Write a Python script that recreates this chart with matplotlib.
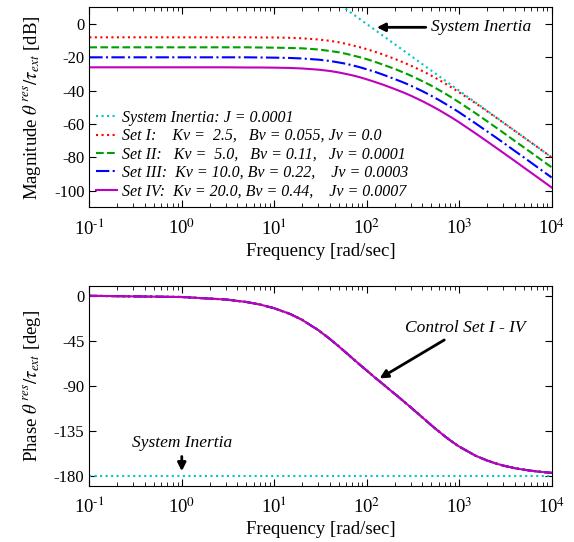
import matplotlib
matplotlib.use("Agg")
import matplotlib.pyplot as plt
from matplotlib.ticker import LogLocator, NullFormatter, FuncFormatter
import numpy as np

plt.rcParams['font.family'] = ['Liberation Serif', 'DejaVu Serif']
plt.rcParams['mathtext.fontset'] = 'stix'
plt.rcParams['axes.unicode_minus'] = False

freq = [0.1, 1, 3, 5, 7, 10, 15, 20, 30, 40, 50, 60, 70, 85, 100, 120, 150, 200,
        250, 300, 400, 500, 600, 700, 850, 1000, 1500, 2000, 2500, 3000, 4000,
        5000, 7000, 10000]

# Magnitude [dB]
mag_set1 = [-8.0, -8.0, -8.0, -8.0, -8.1, -8.1, -8.3, -8.6, -9.3, -10.1, -11.0,
            -11.9, -12.8, -14.0, -15.1, -16.5, -18.3, -20.9, -23.1, -25.0, -28.2,
            -31.0, -33.4, -35.6, -38.5, -41.0, -47.5, -52.3, -56.1, -59.2, -64.2,
            -68.0, -73.8, -80.0]
mag_set2 = [-14.0, -14.0, -14.0, -14.0, -14.1, -14.2, -14.4, -14.6, -15.3, -16.2,
            -17.0, -17.9, -18.8, -20.0, -21.1, -22.5, -24.4, -26.9, -29.1, -31.0,
            -34.3, -37.0, -39.5, -41.6, -44.5, -47.0, -53.5, -58.3, -62.1, -65.2,
            -70.2, -74.0, -79.8, -86.0]
mag_set3 = [-20.0, -20.0, -20.0, -20.0, -20.1, -20.2, -20.4, -20.7, -21.4, -22.2,
            -23.1, -23.9, -24.8, -26.0, -27.2, -28.5, -30.4, -33.0, -35.1, -37.0,
            -40.3, -43.1, -45.5, -47.7, -50.5, -53.0, -59.6, -64.4, -68.1, -71.2,
            -76.2, -80.0, -85.9, -92.1]
mag_set4 = [-26.0, -26.0, -26.0, -26.1, -26.1, -26.2, -26.4, -26.7, -27.4, -28.2,
            -29.1, -30.0, -30.8, -32.0, -33.2, -34.6, -36.4, -39.0, -41.1, -43.0,
            -46.3, -49.1, -51.5, -53.7, -56.5, -59.0, -65.6, -70.4, -74.2, -77.3,
            -82.2, -86.1, -91.9, -98.1]
freq_inertia = [10, 100, 1000, 10000]
mag_inertia = [40, 0, -40, -80]

# Phase [deg] (all four control sets lie on the same curve)
phase_sets = [-0.1, -1.3, -3.8, -6.3, -8.8, -12.5, -18.4, -24.1, -34.4, -43.2,
              -50.7, -57.0, -62.4, -69.2, -74.7, -80.9, -88.3, -97.8, -105.3,
              -111.5, -121.5, -129.3, -135.4, -140.4, -146.2, -150.6, -159.7,
              -164.5, -167.5, -169.6, -172.2, -173.7, -175.5, -176.9]
freq_inertia_ph = [0.1, 10000]
phase_inertia = [-180, -180]

labels = [
    'System Inertia: J = 0.0001',
    'Set I:    Kv =  2.5,   Bv = 0.055, Jv = 0.0',
    'Set II:   Kv =  5.0,   Bv = 0.11,   Jv = 0.0001',
    'Set III:  Kv = 10.0, Bv = 0.22,    Jv = 0.0003',
    'Set IV:  Kv = 20.0, Bv = 0.44,    Jv = 0.0007',
]
colors = ['#00c8c8', '#ff0000', '#00a000', '#0000ff', '#c000c0']
styles = [':', ':', '--', '-.', '-']
mags = [mag_set1, mag_set2, mag_set3, mag_set4]

fig = plt.figure(figsize=(5.74, 5.42), dpi=100)
ax1 = fig.add_axes([0.1556, 0.6175, 0.8054, 0.369])
ax2 = fig.add_axes([0.1556, 0.1033, 0.8054, 0.3696])

# magnitude
ax1.plot(freq_inertia, mag_inertia, color=colors[0], ls=styles[0], lw=1.5, label=labels[0])
for i in range(4):
    ax1.plot(freq, mags[i], color=colors[i + 1], ls=styles[i + 1], lw=1.5, label=labels[i + 1])

# phase
ax2.plot(freq_inertia_ph, phase_inertia, color=colors[0], ls=styles[0], lw=1.5)
for i in range(4):
    ax2.plot(freq, phase_sets, color=colors[i + 1], ls=styles[i + 1], lw=1.5)

# 10^-1 style labels with a plain hyphen in the exponent
decade = FuncFormatter(lambda v, pos: r'$\mathregular{10^{\text{%d}}}$' % round(np.log10(v)))

for ax in (ax1, ax2):
    ax.set_xscale('log')
    ax.set_xlim(0.1, 1e4)
    ax.xaxis.set_major_locator(LogLocator(base=10, numticks=10))
    ax.xaxis.set_major_formatter(decade)
    ax.xaxis.set_minor_locator(LogLocator(base=10, subs=range(2, 10), numticks=20))
    ax.xaxis.set_minor_formatter(NullFormatter())
    ax.tick_params(which='both', direction='in', top=True, right=True, labelsize=12)
    ax.tick_params(axis='x', labelsize=13.5, pad=8)
    ax.tick_params(which='major', length=5)
    ax.tick_params(which='minor', length=3)
    ax.set_xlabel('Frequency [rad/sec]', fontsize=13.5, labelpad=3)

ax1.set_ylim(-110, 10)
ax1.set_yticks([0, -20, -40, -60, -80, -100])
ax1.set_ylabel(r'Magnitude $\theta^{\,res}/\tau_{ext}$ [dB]', fontsize=13.5, labelpad=8)

ax2.set_ylim(-190, 10)
ax2.set_yticks([0, -45, -90, -135, -180])
ax2.set_ylabel(r'Phase $\theta^{\,res}/\tau_{ext}$ [deg]', fontsize=13.5, labelpad=8)

leg = ax1.legend(loc='lower left', bbox_to_anchor=(0.015, 0.04), frameon=False,
                 prop={'style': 'italic', 'size': 11.5}, handlelength=1.3,
                 handletextpad=0.3, labelspacing=0.15, borderpad=0, borderaxespad=0)

arrow = dict(arrowstyle='-|>', color='black', lw=2, mutation_scale=12)
ax1.annotate('System Inertia', xy=(120, -2), xytext=(500, -2), fontsize=12.5,
             style='italic', va='center', ha='left', arrowprops=arrow)
ax2.annotate('Control Set I - IV', xy=(130, -84), xytext=(1150, -40), fontsize=12.5,
             style='italic', ha='center', va='bottom', arrowprops=arrow)
ax2.annotate('System Inertia', xy=(1.0, -178), xytext=(1.0, -155), fontsize=12.5,
             style='italic', ha='center', va='bottom', arrowprops=arrow)

fig.savefig('out.png', dpi=100)
